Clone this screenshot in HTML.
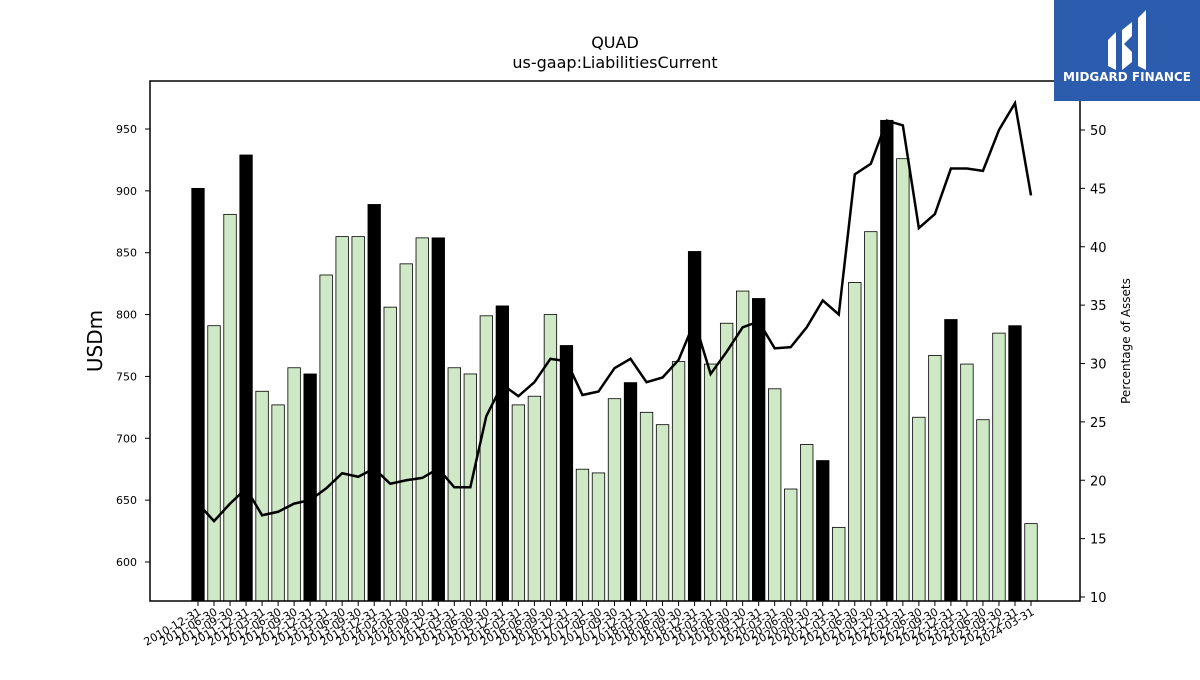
<!DOCTYPE html>
<html><head><meta charset="utf-8"><style>
body{margin:0;background:#fff;font-family:"Liberation Sans",sans-serif}
svg text{font-family:"DejaVu Sans","Liberation Sans",sans-serif}
</style></head><body>
<svg id="c" width="1200" height="675" xmlns="http://www.w3.org/2000/svg">
<text x="615" y="48" font-size="16" text-anchor="middle">QUAD</text>
<text x="615" y="68" font-size="16" text-anchor="middle">us-gaap:LiabilitiesCurrent</text>
<text transform="translate(102,341) rotate(-90)" font-size="20" text-anchor="middle">USDm</text>
<text transform="translate(1130,341) rotate(-90)" font-size="12" text-anchor="middle">Percentage of Assets</text>
<g id="bars"></g>
<g id="axes"></g>
<rect x="150" y="81" width="930" height="520" fill="none" stroke="#000" stroke-width="1.5"/>
<g>
<rect x="1054" y="0" width="146" height="101" fill="#2b5cae"/>
<path d="M1108 40 L1116 32 L1116 70 L1108 66 Z M1122 30 L1132 22 L1132 36 L1124 44 L1132 52 L1132 62 L1122 70 Z M1138 18 L1146 10 L1146 70 L1138 66 Z" fill="#fff"/>
<text x="1127" y="81" font-size="12" font-weight="bold" fill="#fff" text-anchor="middle">MIDGARD FINANCE</text>
</g>
</svg>
<script>
const dates=["2010-12-31"];
(function(){const q=["03-31","06-30","09-30","12-31"];for(let y=2011;y<=2024;y++)for(const d of q){const s=y+"-"+d;if(s>="2011-06-30"&&s<="2024-03-31")dates.push(s);}})();
const liabilities=[902,791,881,929,738,727,757,752,832,863,863,889,806,841,862,862,757,752,799,807,727,734,800,775,675,672,732,745,721,711,762,851,760,793,819,813,740,659,695,682,628,826,867,957,926,717,767,796,760,715,785,791,631];
const pctAssets=[18,16.5,18,19.3,17,17.3,18,18.3,19.3,20.6,20.3,21,19.7,20,20.2,21,19.4,19.4,25.5,28.2,27.2,28.4,30.4,30.2,27.3,27.6,29.6,30.4,28.4,28.8,30.3,33.6,29.1,31,33.1,33.6,31.3,31.4,33.1,35.4,34.2,46.2,47.1,50.8,50.4,41.6,42.8,46.7,46.7,46.5,50,52.3,44.4];
const leftTicks=[600,650,700,750,800,850,900,950];
const rightTicks=[10,15,20,25,30,35,40,45,50];
const NS="http://www.w3.org/2000/svg";
const yL=v=>129+(950-v)*(562-129)/350;
const yR=v=>130+(50-v)*(597-130)/40;
const xB=i=>198+i*(1031-198)/(dates.length-1);
const bw=12.5;
function mk(t,a,p){const e=document.createElementNS(NS,t);for(const k in a)e.setAttribute(k,a[k]);p.appendChild(e);return e;}
const bars=document.getElementById('bars'),axes=document.getElementById('axes');
liabilities.forEach((v,i)=>{
 const blk=dates[i].endsWith("12-31");
 const r=mk('rect',{x:xB(i)-bw/2,y:yL(v),width:bw,height:601-yL(v),fill:blk?'#000':'#cfe9c6',stroke:'#000','stroke-width':0.8},bars);
 
 
 const t=mk('line',{x1:xB(i),x2:xB(i),y1:601,y2:606,stroke:'#000'},axes);
 const lb=mk('text',{x:0,y:0,'font-size':11,'text-anchor':'end',transform:`translate(${xB(i)+4},614) rotate(-30)`},axes);
 lb.textContent=dates[i];
 
 
});
leftTicks.forEach(v=>{mk('line',{x1:145,x2:150,y1:yL(v),y2:yL(v),stroke:'#000'},axes);
 const t=mk('text',{x:137,y:yL(v)+4,'font-size':11,'text-anchor':'end'},axes);t.textContent=v;
 
 });
rightTicks.forEach(v=>{mk('line',{x1:1080,x2:1085,y1:yR(v),y2:yR(v),stroke:'#000'},axes);
 const t=mk('text',{x:1090,y:yR(v)+5,'font-size':13},axes);t.textContent=v;
 
 });
const ln=mk('polyline',{points:pctAssets.map((v,i)=>xB(i)+','+yR(v)).join(' '),fill:'none',stroke:'#000','stroke-width':2.5},bars);


</script>
</body></html>
